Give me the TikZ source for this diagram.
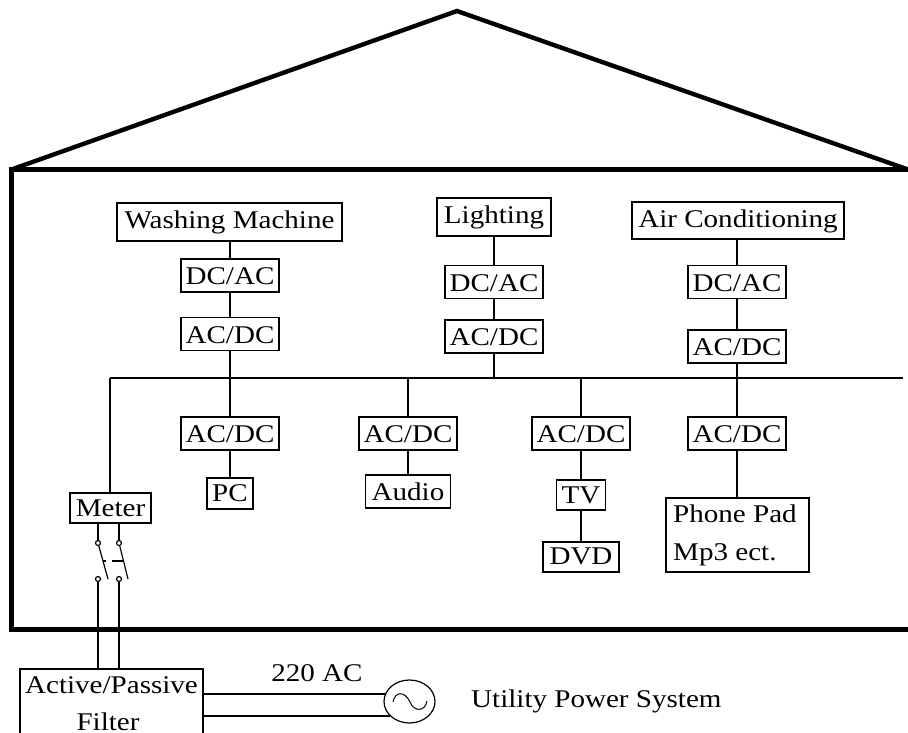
\documentclass[tikz,border=0pt]{standalone}
\usepackage{fontspec}
\usetikzlibrary{shapes.geometric}
\setmainfont{Liberation Serif}[FakeStretch=1.14]
\tikzset{
  x=1pt,y=-1pt,
  wall/.style={line width=4.4pt,line join=miter},
  wire/.style={line width=1.2pt},
  lbl/.style={font=\fontsize{25.5}{30}\selectfont,inner sep=0pt,anchor=base},
  bx/.style={draw,line width=1.2pt,inner sep=0pt,font=\fontsize{25.5}{30}\selectfont,minimum width=#1,text height=20pt},
  bx/.default=98pt,
  conv/.style={bx=98pt,minimum height=33pt,text depth=2pt},
  term/.style={draw,line width=1.2pt,fill=white,circle,inner sep=0pt,minimum size=5pt},
}
\begin{document}
\begin{tikzpicture}
\useasboundingbox (0,0) rectangle (908,733);
% house
\coordinate (eL) at (11.5,169.5); \coordinate (apex) at (457,11); \coordinate (eR) at (908,169.5);
\coordinate (wallB) at (11.5,629.5); \coordinate (floorR) at (908,629.5);
\draw[wall] (eL) -- (apex) -- (eR);
\draw[wall] (eR) -- (eL) -- (wallB) -- (floorR);
% bus
\coordinate (busL) at (110,378); \coordinate (busR) at (903,378);
% top loads
\node[bx=225pt,minimum height=38pt,text depth=8pt] (wm) at (229.5,222) {Washing Machine};
\node[conv] (wm1) at (230,275.5) {DC/AC};
\node[conv] (wm2) at (230,334) {AC/DC};
\node[bx=114pt,minimum height=38pt,text depth=8pt] (li) at (494,217) {Lighting};
\node[conv] (li1) at (494,282) {DC/AC};
\node[conv] (li2) at (494,336.5) {AC/DC};
\node[bx=212pt,minimum height=37pt,text depth=7pt] (ac) at (738,220.5) {Air Conditioning};
\node[conv] (ac1) at (737,282) {DC/AC};
\node[conv] (ac2) at (737,346.5) {AC/DC};
% lower loads
\node[conv] (c1) at (230,433.5) {AC/DC};
\node[bx=46pt,minimum height=31pt,text depth=5pt] (pc) at (230,493.5) {PC};
\node[conv] (c2) at (408,433.5) {AC/DC};
\node[bx=85pt,minimum height=33pt,text depth=3pt] (au) at (408,491.5) {Audio};
\node[conv] (c3) at (581,433.5) {AC/DC};
\node[bx=49pt,minimum height=30pt,text depth=4pt] (tv) at (581,495) {TV};
\node[bx=76pt,minimum height=30pt,text depth=6pt] (dvd) at (581,557) {DVD};
\node[conv] (c4) at (737,433.5) {AC/DC};
\node[bx=143pt,minimum height=74pt] (ph) at (737.5,535) {};
\node[lbl,anchor=base west] (ph1) at (673,522) {Phone Pad};
\node[lbl,anchor=base west] (ph2) at (673,560) {Mp3 ect.};
\node[bx=81pt,minimum height=30pt,text depth=4pt] (me) at (110.5,508) {Meter};
% filter and source
\node[lbl] (fa) at (111.5,693) {Active/Passive};
\node[lbl] (fb) at (108,730.5) {Filter};
\coordinate (fTL) at (20,669); \coordinate (fTR) at (203,669);
\coordinate (fBL) at (20,733); \coordinate (fBR) at (203,733);
\draw[line width=1.2pt] (fBL) -- (fTL) -- (fTR) -- (fBR);
\node[draw,line width=1.2pt,ellipse,minimum width=51pt,minimum height=43pt,inner sep=0pt] (src) at (409.5,701.5) {};
\node[lbl] (v) at (317,681) {220 AC};
\node[lbl,anchor=base west] (u) at (471,707) {Utility Power System};
% wiring
\draw[wire] (busL) -- (busR);
\draw[wire] (wm.south-|wm1) -- (wm1); \draw[wire] (wm1) -- (wm2); \draw[wire] (wm2) -- (c1);
\draw[wire] (li) -- (li1); \draw[wire] (li1) -- (li2); \draw[wire] (li2) -- (li2|-busL);
\draw[wire] (ac.south-|ac1) -- (ac1); \draw[wire] (ac1) -- (ac2); \draw[wire] (ac2) -- (c4);
\draw[wire] (c1) -- (pc);
\draw[wire] (c2) -- (c2|-busL); \draw[wire] (c2) -- (au);
\draw[wire] (c3) -- (c3|-busL); \draw[wire] (c3) -- (tv);
\draw[wire] (tv) -- (dvd);
\draw[wire] (c4) -- (c4|-ph.north);
\draw[wire] (busL) -- (busL|-me.north);
% switches
\node[term] (t1) at (98,543) {}; \node[term] (t2) at (119,543) {};
\node[term] (b1) at (98,579) {}; \node[term] (b2) at (119,579) {};
\coordinate (bl1) at (108,579); \coordinate (bl2) at (128,579);
\coordinate (tk1) at (103,561); \coordinate (tk1e) at (106,561);
\coordinate (tk2) at (112,561); \coordinate (tk2e) at (123,561);
\draw[wire] (t1|-me.south) -- (t1); \draw[wire] (t2|-me.south) -- (t2);
\draw[wire] (t1) -- (bl1); \draw[wire] (t2) -- (bl2);
\draw[wire] (tk1) -- (tk1e); \draw[wire] (tk2) -- (tk2e);
\draw[wire] (b1) -- (b1|-fTL); \draw[wire] (b2) -- (b2|-fTL);
% source lines and sine
\coordinate (s1) at (203,694); \coordinate (e1) at (386,694);
\coordinate (s2) at (203,716); \coordinate (e2) at (390,716);
\draw[wire] (s1) -- (e1);
\draw[wire] (s2) -- (e2);
\draw[line width=1pt] (393,702) .. controls (395,691) and (405,691) .. (410,702) .. controls (414,712) and (425,712) .. (427,701);
\end{tikzpicture}
\end{document}
